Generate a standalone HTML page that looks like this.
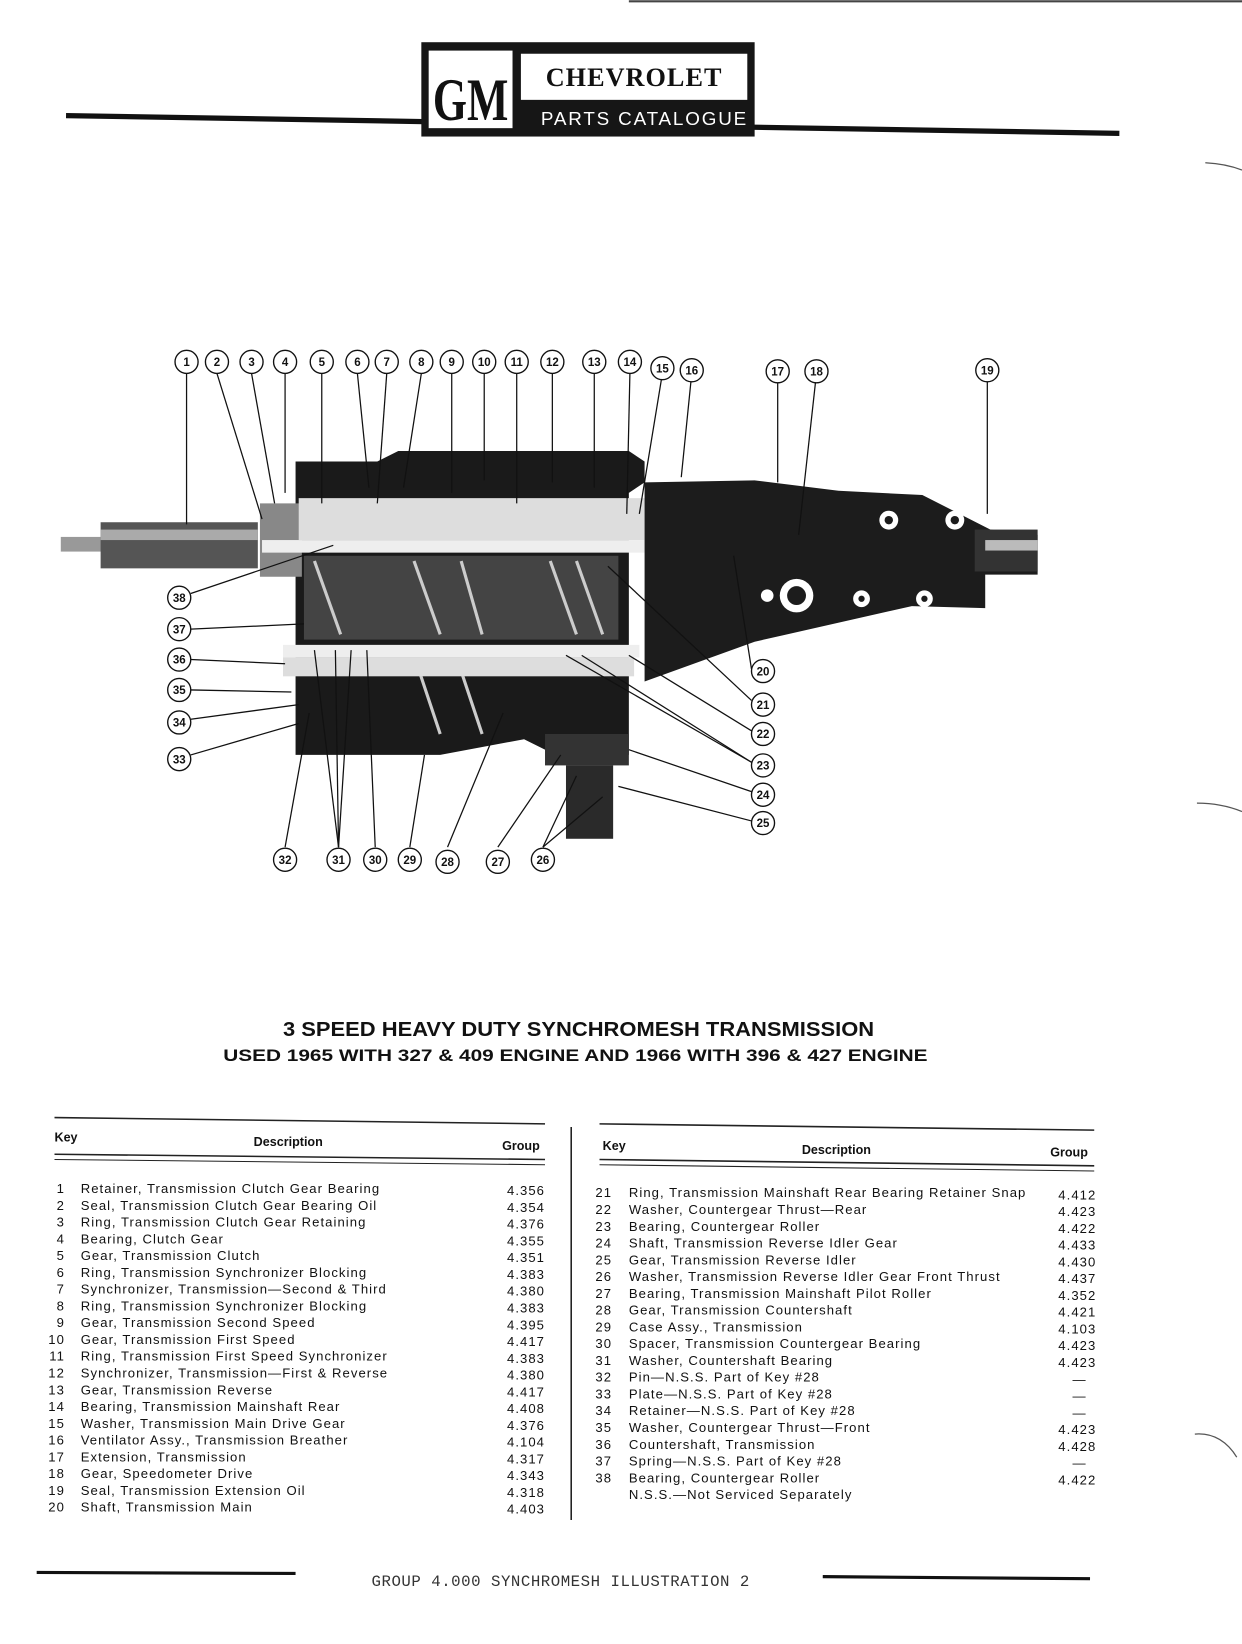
<!DOCTYPE html>
<html><head><meta charset="utf-8"><style>
html,body{margin:0;padding:0;background:#fff;}
svg{display:block}
text{font-family:"Liberation Sans",sans-serif;fill:#111}
.t{font-size:12.5px;letter-spacing:1px}
.h{font-size:12px;font-weight:bold}
.c{font-size:11px;font-weight:bold}
</style></head><body>
<svg width="1242" height="1644" viewBox="0 0 1185 1568" xmlns="http://www.w3.org/2000/svg">
<rect width="1185" height="1568" fill="#fff"/>
<!-- header -->
<line x1="600" y1="1" x2="1185" y2="1" stroke="#444" stroke-width="2"/>
<line x1="63" y1="110" x2="1068" y2="127" stroke="#111" stroke-width="5"/>
<rect x="402" y="40" width="318" height="90" fill="#161616"/>
<rect x="409" y="48" width="80" height="74" fill="#fff"/>
<text x="449" y="114" text-anchor="middle" style="font-family:'Liberation Serif',serif;font-size:58px;font-weight:bold" textLength="72" lengthAdjust="spacingAndGlyphs">GM</text>
<rect x="497" y="51" width="216" height="44" fill="#fff"/>
<text x="605" y="82" text-anchor="middle" style="font-family:'Liberation Serif',serif;font-size:25px;font-weight:bold;letter-spacing:1px">CHEVROLET</text>
<text x="516" y="119" style="font-family:'Liberation Sans',sans-serif;font-size:18px;fill:#fff" textLength="196" lengthAdjust="spacing">PARTS CATALOGUE</text>

<!-- diagram -->
<g>
<rect x="58" y="512" width="40" height="14" fill="#999"/>
<rect x="96" y="498" width="150" height="44" fill="#555"/>
<rect x="96" y="505" width="150" height="10" fill="#aaa"/>
<path d="M282 440 L360 440 L380 430 L600 430 L615 440 L615 460 L600 470 L600 720 L530 720 L500 705 L420 720 L282 720 Z" fill="#1a1a1a"/>
<rect x="248" y="480" width="40" height="70" fill="#888"/>
<rect x="285" y="475" width="330" height="40" fill="#ddd"/>
<rect x="250" y="515" width="700" height="12" fill="#eee"/>
<rect x="290" y="530" width="300" height="80" fill="#444"/>
<g stroke="#ccc" stroke-width="3">
<line x1="300" y1="535" x2="325" y2="605"/><line x1="395" y1="535" x2="420" y2="605"/><line x1="440" y1="535" x2="460" y2="605"/><line x1="525" y1="535" x2="550" y2="605"/><line x1="550" y1="535" x2="575" y2="605"/>
<line x1="400" y1="640" x2="420" y2="700"/><line x1="440" y1="640" x2="460" y2="700"/>
</g>
<rect x="270" y="615" width="340" height="12" fill="#eee"/>
<rect x="270" y="627" width="335" height="18" fill="#ddd"/>
<path d="M615 460 L720 458 L800 468 L880 472 L945 505 L990 510 L990 548 L940 548 L940 580 L870 578 L720 612 L615 650 Z" fill="#1c1c1c"/>
<rect x="930" y="505" width="60" height="40" fill="#333"/>
<rect x="940" y="515" width="50" height="10" fill="#bbb"/>
<g fill="#fff"><circle cx="848" cy="496" r="9"/><circle cx="911" cy="496" r="9"/><circle cx="760" cy="568" r="16"/><circle cx="822" cy="571" r="8"/><circle cx="882" cy="571" r="8"/><circle cx="732" cy="568" r="6"/></g>
<g fill="#1c1c1c"><circle cx="848" cy="496" r="4"/><circle cx="911" cy="496" r="4"/><circle cx="760" cy="568" r="9"/><circle cx="822" cy="571" r="3"/><circle cx="882" cy="571" r="3"/></g>
<rect x="520" y="700" width="80" height="30" fill="#333"/>
<rect x="540" y="730" width="45" height="70" fill="#2a2a2a"/>
</g>

<g stroke="#111" stroke-width="1.2" fill="none">
<line x1="178" y1="356" x2="178" y2="500"/>
<line x1="207" y1="356" x2="250" y2="495"/>
<line x1="240" y1="356" x2="262" y2="480"/>
<line x1="272" y1="356" x2="272" y2="470"/>
<line x1="307" y1="356" x2="307" y2="480"/>
<line x1="341" y1="356" x2="352" y2="465"/>
<line x1="369" y1="356" x2="360" y2="480"/>
<line x1="402" y1="356" x2="385" y2="465"/>
<line x1="431" y1="356" x2="431" y2="470"/>
<line x1="462" y1="356" x2="462" y2="458"/>
<line x1="493" y1="356" x2="493" y2="480"/>
<line x1="527" y1="356" x2="527" y2="460"/>
<line x1="567" y1="356" x2="567" y2="465"/>
<line x1="601" y1="356" x2="598" y2="490"/>
<line x1="632" y1="356" x2="610" y2="490"/>
<line x1="660" y1="356" x2="650" y2="455"/>
<line x1="742" y1="356" x2="742" y2="460"/>
<line x1="779" y1="356" x2="762" y2="510"/>
<line x1="942" y1="356" x2="942" y2="490"/>
<line x1="182" y1="566" x2="318" y2="520"/>
<line x1="182" y1="600" x2="290" y2="595"/>
<line x1="182" y1="629" x2="272" y2="633"/>
<line x1="182" y1="658" x2="278" y2="660"/>
<line x1="182" y1="686" x2="285" y2="672"/>
<line x1="182" y1="720" x2="285" y2="690"/>
<line x1="717" y1="638" x2="700" y2="530"/>
<line x1="717" y1="668" x2="580" y2="540"/>
<line x1="717" y1="697" x2="600" y2="625"/>
<line x1="717" y1="727" x2="540" y2="625"/>
<line x1="717" y1="727" x2="555" y2="625"/>
<line x1="717" y1="755" x2="600" y2="715"/>
<line x1="717" y1="783" x2="590" y2="750"/>
<line x1="272" y1="808" x2="295" y2="680"/>
<line x1="323" y1="808" x2="300" y2="620"/>
<line x1="323" y1="808" x2="320" y2="620"/>
<line x1="323" y1="808" x2="335" y2="620"/>
<line x1="358" y1="808" x2="350" y2="620"/>
<line x1="391" y1="808" x2="405" y2="720"/>
<line x1="427" y1="808" x2="480" y2="680"/>
<line x1="475" y1="808" x2="535" y2="720"/>
<line x1="518" y1="808" x2="550" y2="740"/>
<line x1="518" y1="808" x2="575" y2="760"/>
</g>
<g fill="#fff" stroke="#111" stroke-width="1.3">
<circle cx="178" cy="345" r="11"/><circle cx="207" cy="345" r="11"/><circle cx="240" cy="345" r="11"/><circle cx="272" cy="345" r="11"/><circle cx="307" cy="345" r="11"/><circle cx="341" cy="345" r="11"/><circle cx="369" cy="345" r="11"/><circle cx="402" cy="345" r="11"/><circle cx="431" cy="345" r="11"/><circle cx="462" cy="345" r="11"/><circle cx="493" cy="345" r="11"/><circle cx="527" cy="345" r="11"/><circle cx="567" cy="345" r="11"/><circle cx="601" cy="345" r="11"/><circle cx="632" cy="351" r="11"/><circle cx="660" cy="353" r="11"/><circle cx="742" cy="354" r="11"/><circle cx="779" cy="354" r="11"/><circle cx="942" cy="353" r="11"/>
<circle cx="171" cy="570" r="11"/><circle cx="171" cy="600" r="11"/><circle cx="171" cy="629" r="11"/><circle cx="171" cy="658" r="11"/><circle cx="171" cy="689" r="11"/><circle cx="171" cy="724" r="11"/>
<circle cx="728" cy="640" r="11"/><circle cx="728" cy="672" r="11"/><circle cx="728" cy="700" r="11"/><circle cx="728" cy="730" r="11"/><circle cx="728" cy="758" r="11"/><circle cx="728" cy="785" r="11"/>
<circle cx="272" cy="820" r="11"/><circle cx="323" cy="820" r="11"/><circle cx="358" cy="820" r="11"/><circle cx="391" cy="820" r="11"/><circle cx="427" cy="822" r="11"/><circle cx="475" cy="822" r="11"/><circle cx="518" cy="820" r="11"/>
</g>
<g text-anchor="middle">
<text x="178" y="349" class="c">1</text><text x="207" y="349" class="c">2</text><text x="240" y="349" class="c">3</text><text x="272" y="349" class="c">4</text><text x="307" y="349" class="c">5</text><text x="341" y="349" class="c">6</text><text x="369" y="349" class="c">7</text><text x="402" y="349" class="c">8</text><text x="431" y="349" class="c">9</text><text x="462" y="349" class="c">10</text><text x="493" y="349" class="c">11</text><text x="527" y="349" class="c">12</text><text x="567" y="349" class="c">13</text><text x="601" y="349" class="c">14</text><text x="632" y="355" class="c">15</text><text x="660" y="357" class="c">16</text><text x="742" y="358" class="c">17</text><text x="779" y="358" class="c">18</text><text x="942" y="357" class="c">19</text>
<text x="171" y="574" class="c">38</text><text x="171" y="604" class="c">37</text><text x="171" y="633" class="c">36</text><text x="171" y="662" class="c">35</text><text x="171" y="693" class="c">34</text><text x="171" y="728" class="c">33</text>
<text x="728" y="644" class="c">20</text><text x="728" y="676" class="c">21</text><text x="728" y="704" class="c">22</text><text x="728" y="734" class="c">23</text><text x="728" y="762" class="c">24</text><text x="728" y="789" class="c">25</text>
<text x="272" y="824" class="c">32</text><text x="323" y="824" class="c">31</text><text x="358" y="824" class="c">30</text><text x="391" y="824" class="c">29</text><text x="427" y="826" class="c">28</text><text x="475" y="826" class="c">27</text><text x="518" y="824" class="c">26</text>
</g>

<text x="552" y="988" text-anchor="middle" style="font-size:19px;font-weight:bold" textLength="564" lengthAdjust="spacingAndGlyphs">3 SPEED HEAVY DUTY SYNCHROMESH TRANSMISSION</text>
<text x="549" y="1012" text-anchor="middle" style="font-size:16px;font-weight:bold" textLength="672" lengthAdjust="spacingAndGlyphs">USED 1965 WITH 327 &amp; 409 ENGINE AND 1966 WITH 396 &amp; 427 ENGINE</text>

<g stroke="#222">
<line x1="52" y1="1066" x2="520" y2="1072" stroke-width="1.5"/>
<line x1="52" y1="1101" x2="520" y2="1106" stroke-width="1.5"/>
<line x1="52" y1="1106" x2="520" y2="1111" stroke-width="1"/>
<line x1="572" y1="1072" x2="1044" y2="1078" stroke-width="1.5"/>
<line x1="572" y1="1106" x2="1044" y2="1112" stroke-width="1.5"/>
<line x1="572" y1="1111" x2="1044" y2="1117" stroke-width="1"/>
<line x1="545" y1="1075" x2="545" y2="1450" stroke-width="1.5"/>
</g>
<text x="52" y="1089" class="h">Key</text><text x="275" y="1093" class="h" text-anchor="middle">Description</text><text x="497" y="1097" class="h" text-anchor="middle">Group</text>
<text x="575" y="1097" class="h">Key</text><text x="798" y="1101" class="h" text-anchor="middle">Description</text><text x="1020" y="1103" class="h" text-anchor="middle">Group</text>

<g>
<text x="62" y="1138" text-anchor="end" class="t">1</text><text x="77" y="1138" class="t">Retainer, Transmission Clutch Gear Bearing</text><text x="520" y="1140" text-anchor="end" class="t">4.356</text>
<text x="62" y="1154" text-anchor="end" class="t">2</text><text x="77" y="1154" class="t">Seal, Transmission Clutch Gear Bearing Oil</text><text x="520" y="1156" text-anchor="end" class="t">4.354</text>
<text x="62" y="1170" text-anchor="end" class="t">3</text><text x="77" y="1170" class="t">Ring, Transmission Clutch Gear Retaining</text><text x="520" y="1172" text-anchor="end" class="t">4.376</text>
<text x="62" y="1186" text-anchor="end" class="t">4</text><text x="77" y="1186" class="t">Bearing, Clutch Gear</text><text x="520" y="1188" text-anchor="end" class="t">4.355</text>
<text x="62" y="1202" text-anchor="end" class="t">5</text><text x="77" y="1202" class="t">Gear, Transmission Clutch</text><text x="520" y="1204" text-anchor="end" class="t">4.351</text>
<text x="62" y="1218" text-anchor="end" class="t">6</text><text x="77" y="1218" class="t">Ring, Transmission Synchronizer Blocking</text><text x="520" y="1220" text-anchor="end" class="t">4.383</text>
<text x="62" y="1234" text-anchor="end" class="t">7</text><text x="77" y="1234" class="t">Synchronizer, Transmission—Second &amp; Third</text><text x="520" y="1236" text-anchor="end" class="t">4.380</text>
<text x="62" y="1250" text-anchor="end" class="t">8</text><text x="77" y="1250" class="t">Ring, Transmission Synchronizer Blocking</text><text x="520" y="1252" text-anchor="end" class="t">4.383</text>
<text x="62" y="1266" text-anchor="end" class="t">9</text><text x="77" y="1266" class="t">Gear, Transmission Second Speed</text><text x="520" y="1268" text-anchor="end" class="t">4.395</text>
<text x="62" y="1282" text-anchor="end" class="t">10</text><text x="77" y="1282" class="t">Gear, Transmission First Speed</text><text x="520" y="1284" text-anchor="end" class="t">4.417</text>
<text x="62" y="1298" text-anchor="end" class="t">11</text><text x="77" y="1298" class="t">Ring, Transmission First Speed Synchronizer</text><text x="520" y="1300" text-anchor="end" class="t">4.383</text>
<text x="62" y="1314" text-anchor="end" class="t">12</text><text x="77" y="1314" class="t">Synchronizer, Transmission—First &amp; Reverse</text><text x="520" y="1316" text-anchor="end" class="t">4.380</text>
<text x="62" y="1330" text-anchor="end" class="t">13</text><text x="77" y="1330" class="t">Gear, Transmission Reverse</text><text x="520" y="1332" text-anchor="end" class="t">4.417</text>
<text x="62" y="1346" text-anchor="end" class="t">14</text><text x="77" y="1346" class="t">Bearing, Transmission Mainshaft Rear</text><text x="520" y="1348" text-anchor="end" class="t">4.408</text>
<text x="62" y="1362" text-anchor="end" class="t">15</text><text x="77" y="1362" class="t">Washer, Transmission Main Drive Gear</text><text x="520" y="1364" text-anchor="end" class="t">4.376</text>
<text x="62" y="1378" text-anchor="end" class="t">16</text><text x="77" y="1378" class="t">Ventilator Assy., Transmission Breather</text><text x="520" y="1380" text-anchor="end" class="t">4.104</text>
<text x="62" y="1394" text-anchor="end" class="t">17</text><text x="77" y="1394" class="t">Extension, Transmission</text><text x="520" y="1396" text-anchor="end" class="t">4.317</text>
<text x="62" y="1410" text-anchor="end" class="t">18</text><text x="77" y="1410" class="t">Gear, Speedometer Drive</text><text x="520" y="1412" text-anchor="end" class="t">4.343</text>
<text x="62" y="1426" text-anchor="end" class="t">19</text><text x="77" y="1426" class="t">Seal, Transmission Extension Oil</text><text x="520" y="1428" text-anchor="end" class="t">4.318</text>
<text x="62" y="1442" text-anchor="end" class="t">20</text><text x="77" y="1442" class="t">Shaft, Transmission Main</text><text x="520" y="1444" text-anchor="end" class="t">4.403</text>

<text x="584" y="1142" text-anchor="end" class="t">21</text><text x="600" y="1142" class="t">Ring, Transmission Mainshaft Rear Bearing Retainer Snap</text><text x="1046" y="1144" text-anchor="end" class="t">4.412</text>
<text x="584" y="1158" text-anchor="end" class="t">22</text><text x="600" y="1158" class="t">Washer, Countergear Thrust—Rear</text><text x="1046" y="1160" text-anchor="end" class="t">4.423</text>
<text x="584" y="1174" text-anchor="end" class="t">23</text><text x="600" y="1174" class="t">Bearing, Countergear Roller</text><text x="1046" y="1176" text-anchor="end" class="t">4.422</text>
<text x="584" y="1190" text-anchor="end" class="t">24</text><text x="600" y="1190" class="t">Shaft, Transmission Reverse Idler Gear</text><text x="1046" y="1192" text-anchor="end" class="t">4.433</text>
<text x="584" y="1206" text-anchor="end" class="t">25</text><text x="600" y="1206" class="t">Gear, Transmission Reverse Idler</text><text x="1046" y="1208" text-anchor="end" class="t">4.430</text>
<text x="584" y="1222" text-anchor="end" class="t">26</text><text x="600" y="1222" class="t">Washer, Transmission Reverse Idler Gear Front Thrust</text><text x="1046" y="1224" text-anchor="end" class="t">4.437</text>
<text x="584" y="1238" text-anchor="end" class="t">27</text><text x="600" y="1238" class="t">Bearing, Transmission Mainshaft Pilot Roller</text><text x="1046" y="1240" text-anchor="end" class="t">4.352</text>
<text x="584" y="1254" text-anchor="end" class="t">28</text><text x="600" y="1254" class="t">Gear, Transmission Countershaft</text><text x="1046" y="1256" text-anchor="end" class="t">4.421</text>
<text x="584" y="1270" text-anchor="end" class="t">29</text><text x="600" y="1270" class="t">Case Assy., Transmission</text><text x="1046" y="1272" text-anchor="end" class="t">4.103</text>
<text x="584" y="1286" text-anchor="end" class="t">30</text><text x="600" y="1286" class="t">Spacer, Transmission Countergear Bearing</text><text x="1046" y="1288" text-anchor="end" class="t">4.423</text>
<text x="584" y="1302" text-anchor="end" class="t">31</text><text x="600" y="1302" class="t">Washer, Countershaft Bearing</text><text x="1046" y="1304" text-anchor="end" class="t">4.423</text>
<text x="584" y="1318" text-anchor="end" class="t">32</text><text x="600" y="1318" class="t">Pin—N.S.S. Part of Key #28</text><text x="1030" y="1320" text-anchor="middle" class="t">—</text>
<text x="584" y="1334" text-anchor="end" class="t">33</text><text x="600" y="1334" class="t">Plate—N.S.S. Part of Key #28</text><text x="1030" y="1336" text-anchor="middle" class="t">—</text>
<text x="584" y="1350" text-anchor="end" class="t">34</text><text x="600" y="1350" class="t">Retainer—N.S.S. Part of Key #28</text><text x="1030" y="1352" text-anchor="middle" class="t">—</text>
<text x="584" y="1366" text-anchor="end" class="t">35</text><text x="600" y="1366" class="t">Washer, Countergear Thrust—Front</text><text x="1046" y="1368" text-anchor="end" class="t">4.423</text>
<text x="584" y="1382" text-anchor="end" class="t">36</text><text x="600" y="1382" class="t">Countershaft, Transmission</text><text x="1046" y="1384" text-anchor="end" class="t">4.428</text>
<text x="584" y="1398" text-anchor="end" class="t">37</text><text x="600" y="1398" class="t">Spring—N.S.S. Part of Key #28</text><text x="1030" y="1400" text-anchor="middle" class="t">—</text>
<text x="584" y="1414" text-anchor="end" class="t">38</text><text x="600" y="1414" class="t">Bearing, Countergear Roller</text><text x="1046" y="1416" text-anchor="end" class="t">4.422</text>
<text x="600" y="1430" class="t">N.S.S.—Not Serviced Separately</text>
</g>

<line x1="35" y1="1500" x2="282" y2="1501" stroke="#111" stroke-width="3"/>
<line x1="785" y1="1504" x2="1040" y2="1506" stroke="#111" stroke-width="3"/>
<text x="535" y="1513" text-anchor="middle" style="font-family:'Liberation Mono',monospace;font-size:15px;fill:#333;letter-spacing:0.5px">GROUP 4.000 SYNCHROMESH ILLUSTRATION 2</text>
<g stroke="#555" fill="none" stroke-width="1.2">
<path d="M1150 155 Q1170 156 1185 162"/><path d="M1142 766 Q1165 766 1185 774"/><path d="M1140 1368 Q1165 1366 1180 1390"/>
</g>
</svg>
</body></html>
